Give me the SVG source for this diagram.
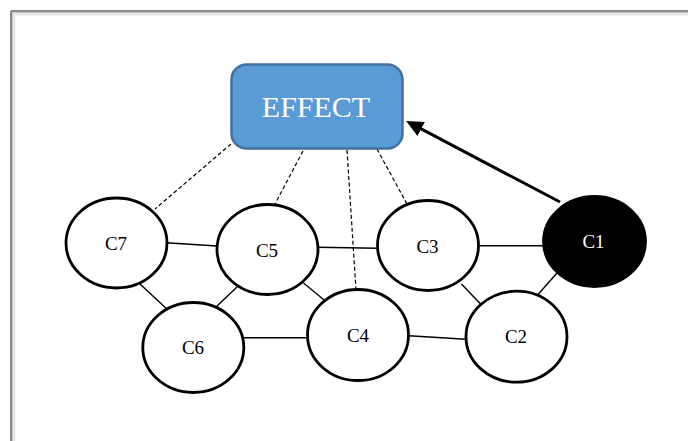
<svg xmlns="http://www.w3.org/2000/svg" width="688" height="441" viewBox="0 0 688 441">
  <style>
    .node ellipse { fill: #ffffff; stroke: #000000; stroke-width: 2.8; }
    .node text { font-family: "Liberation Serif", "Times New Roman", serif; font-size: 19px; fill: #000000; text-anchor: middle; }
    #C1 ellipse { fill: #000000; }
    #C1 text { fill: #ffffff; }
    .solid { stroke: #000000; stroke-width: 1.4; fill: none; }
    .dash { stroke: #000000; stroke-width: 1.2; stroke-dasharray: 4 2.5; fill: none; }
    .arrow { stroke: #000000; stroke-width: 3; fill: none; }
  </style>
  <defs>
    <marker id="head" markerUnits="userSpaceOnUse" markerWidth="17" markerHeight="16" refX="7" refY="8" orient="auto">
      <path d="M0,0 L17,8 L0,16 z" fill="#000000"/>
    </marker>
  </defs>
  <rect x="0" y="0" width="688" height="441" fill="#ffffff"/>
  <g id="frame">
    <line x1="14.5" y1="14.5" x2="688" y2="14.5" stroke="#e8e8e8" stroke-width="2"/>
    <line x1="14.5" y1="14.5" x2="14.5" y2="441" stroke="#e8e8e8" stroke-width="2"/>
    <line x1="12.5" y1="12.5" x2="688" y2="12.5" stroke="#c4c4c4" stroke-width="1.5"/>
    <line x1="12.5" y1="12.5" x2="12.5" y2="441" stroke="#c4c4c4" stroke-width="1.5"/>
    <line x1="11" y1="11" x2="688" y2="11" stroke="#8a8a8a" stroke-width="2"/>
    <line x1="11" y1="11" x2="11" y2="441" stroke="#8a8a8a" stroke-width="2"/>
  </g>
  <g id="connectors">
    <line class="dash" x1="231" y1="144" x2="155" y2="209"/>
    <line class="dash" x1="303" y1="151" x2="275" y2="204"/>
    <line class="dash" x1="347" y1="150" x2="356" y2="290"/>
    <line class="dash" x1="377" y1="149" x2="407" y2="204"/>
    <line class="solid" x1="166" y1="242.7" x2="217" y2="246"/>
    <line class="solid" x1="140" y1="284" x2="169" y2="311"/>
    <line class="solid" x1="237" y1="287" x2="216.5" y2="306.5"/>
    <line class="solid" x1="303.5" y1="283" x2="326" y2="301.5"/>
    <line class="solid" x1="244" y1="337.7" x2="308" y2="337.7"/>
    <line class="solid" x1="318" y1="247.3" x2="377" y2="248.3"/>
    <line class="solid" x1="479" y1="245.7" x2="543" y2="245.7"/>
    <line class="solid" x1="461.5" y1="284" x2="481" y2="304.5"/>
    <line class="solid" x1="557" y1="273" x2="538" y2="294.5"/>
    <line class="solid" x1="409" y1="335.7" x2="466" y2="339.3"/>
    <line class="arrow" x1="560" y1="202" x2="415" y2="125.7" marker-end="url(#head)"/>
  </g>
  <g id="EFFECT">
    <rect x="231.5" y="64.5" width="171" height="84" rx="15" ry="15" fill="#5b9bd5" stroke="#41719c" stroke-width="2.5"/>
    <text x="316" y="117" font-family="Liberation Serif, Times New Roman, serif" font-size="30" fill="#ffffff" text-anchor="middle">EFFECT</text>
  </g>
  <g id="C7" class="node">
    <ellipse cx="116.5" cy="243" rx="50.5" ry="45"/>
    <text x="116" y="250">C7</text>
  </g>
  <g id="C5" class="node">
    <ellipse cx="267.5" cy="249.5" rx="50.5" ry="45"/>
    <text x="267" y="256.5">C5</text>
  </g>
  <g id="C3" class="node">
    <ellipse cx="428" cy="245.5" rx="50.5" ry="45"/>
    <text x="427.5" y="253">C3</text>
  </g>
  <g id="C1" class="node">
    <ellipse cx="594.5" cy="241.5" rx="51" ry="45"/>
    <text x="593.5" y="248">C1</text>
  </g>
  <g id="C6" class="node">
    <ellipse cx="193.3" cy="347.5" rx="50.5" ry="45"/>
    <text x="193" y="354">C6</text>
  </g>
  <g id="C4" class="node">
    <ellipse cx="358" cy="335" rx="50.5" ry="45.5"/>
    <text x="358" y="342">C4</text>
  </g>
  <g id="C2" class="node">
    <ellipse cx="516.5" cy="336.7" rx="50.5" ry="45.5"/>
    <text x="516" y="343">C2</text>
  </g>
</svg>
